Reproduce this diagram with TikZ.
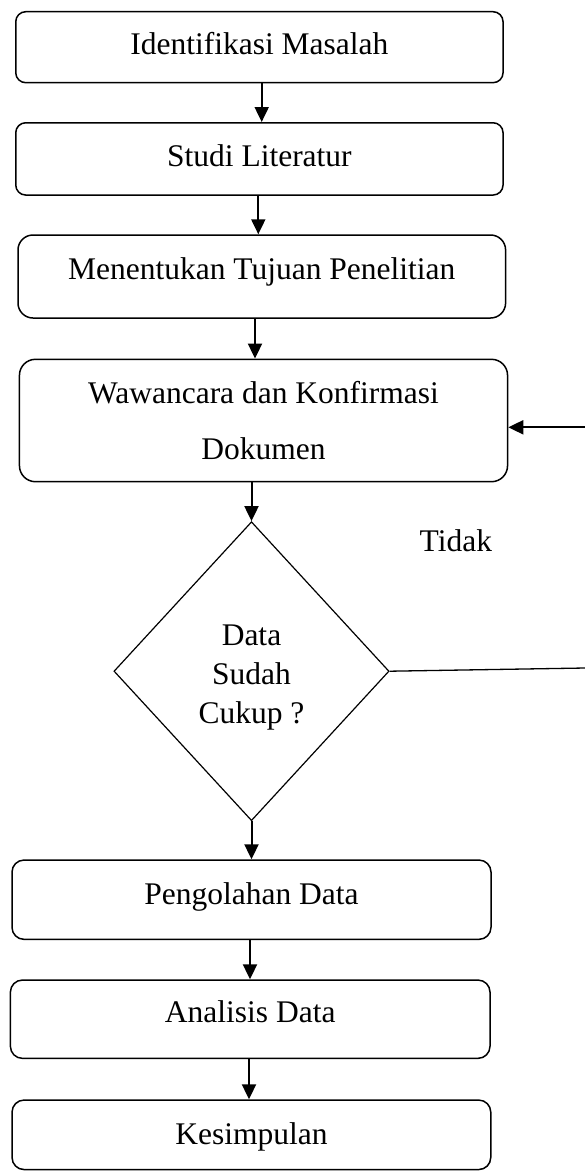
\documentclass[tikz,border=0pt]{standalone}
\usepackage{fontspec}
\setmainfont{Liberation Serif}
\usetikzlibrary{arrows.meta,shapes.geometric,calc}
\begin{document}
\begin{tikzpicture}[x=1pt,y=-1pt,
  box/.style={draw, line width=1.5pt, rounded corners=11pt, inner sep=0pt},
  txt/.style={font=\fontsize{31.5}{39}\selectfont, inner sep=0pt, anchor=base},
  arr/.style={line width=2pt, -{Triangle[width=14pt,length=15pt]}},
  dec/.style={draw, diamond, line width=1.2pt, inner sep=0pt, minimum width=275.2pt, minimum height=299pt},
  loopline/.style={line width=1.3pt}]
\useasboundingbox (0,0) rectangle (585,1171);
% boxes
\node[box, rounded corners=10pt, minimum width=487.3pt, minimum height=71pt]   (b1) at (259.4,47.2) {};
\node[box, rounded corners=10pt, minimum width=487.3pt, minimum height=72.3pt] (b2) at (259.4,158.9) {};
\node[box, rounded corners=15pt, minimum width=487.6pt, minimum height=83pt]   (b3) at (261.8,276.5) {};
\node[box, rounded corners=16pt, minimum width=488.1pt, minimum height=122.4pt] (b4) at (263.5,420.5) {};
\node[dec] (d) at (251.5,671.2) {};
\node[box, rounded corners=12pt, minimum width=479pt, minimum height=79.3pt]   (b5) at (251.5,899.7) {};
\node[box, rounded corners=12pt, minimum width=479.6pt, minimum height=78.3pt] (b6) at (250.2,1019.2) {};
\node[box, rounded corners=12pt, minimum width=478.7pt, minimum height=69.5pt] (b7) at (251.4,1134.8) {};
% texts
\node[txt] (t1) at ($(b1.north)+(0,43.8)$) {Identifikasi Masalah};
\node[txt] (t2) at ($(b2.north)+(0,44.3)$) {Studi Literatur};
\node[txt] (t3) at ($(b3.north)+(0,45)$) {Menentukan Tujuan Penelitian};
\node[txt] (t4a) at ($(b4.north)+(0,44.5)$) {Wawancara dan Konfirmasi};
\node[txt] (t4b) at ($(b4.north)+(0,100.7)$) {Dokumen};
\node[txt, anchor=center, align=center] (dt) at ($(d.center)+(0,6)$) {Data\\Sudah\\Cukup ?};
\node[txt] (t5) at ($(b5.north)+(0,45)$) {Pengolahan Data};
\node[txt] (t6) at ($(b6.north)+(0,43.5)$) {Analisis Data};
\node[txt] (t7) at ($(b7.north)+(0,45)$) {Kesimpulan};
\node[txt] (tidak) at (455.9,551.7) {Tidak};
% arrow x positions
\coordinate (ax1) at (261.7,0);
\coordinate (ax2) at (258.3,0);
\coordinate (ax3) at (255,0);
\coordinate (ax5) at (250,0);
\coordinate (ax6) at (249,0);
% connectors
\draw[arr] (b1.south -| ax1) -- (b2.north -| ax1);
\draw[arr] (b2.south -| ax2) -- (b3.north -| ax2);
\draw[arr] (b3.south -| ax3) -- (b4.north -| ax3);
\draw[arr] (b4.south -| d.north) -- (d.north);
\draw[arr] (d.south) -- (b5.north -| d.south);
\draw[arr] (b5.south -| ax5) -- (b6.north -| ax5);
\draw[arr] (b6.south -| ax6) -- (b7.north -| ax6);
% loop back (continues beyond the right edge)
\coordinate (r1) at (585,668);
\coordinate (r2) at (585,427.3);
\draw[loopline] (d.east) -- (r1);
\draw[arr] (r2) -- (r2 -| b4.east);
\end{tikzpicture}
\end{document}
